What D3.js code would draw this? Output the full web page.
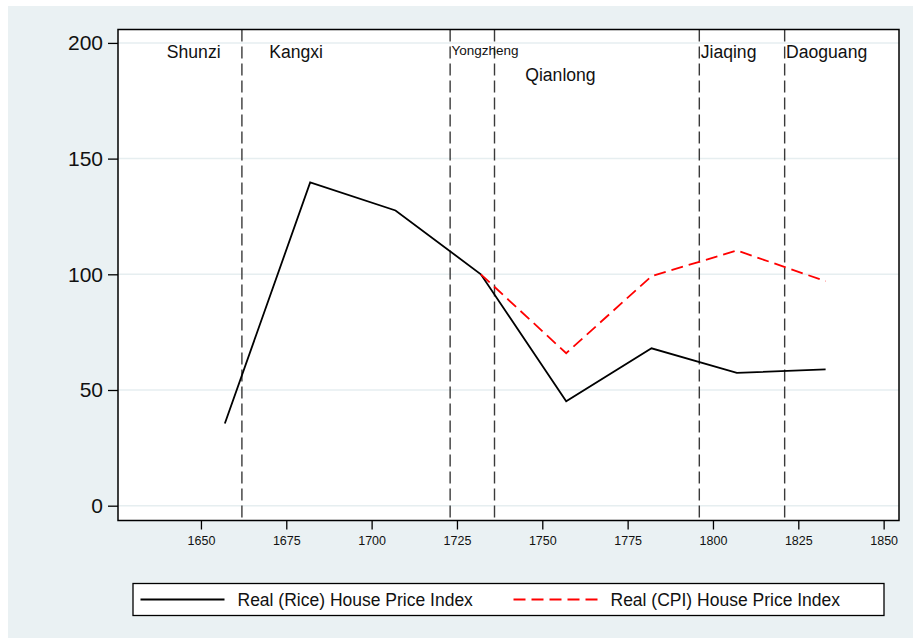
<!DOCTYPE html>
<html>
<head>
<meta charset="utf-8">
<script src="https://cdn.jsdelivr.net/npm/d3@7"></script>
<style>
  html, body { margin: 0; padding: 0; background: #fff; }
  svg { display: block; font-family: "Liberation Sans", Arial, sans-serif; }
</style>
</head>
<body>
<div id="vis-display"></div>
<script>
// Real house price indices by Qing reign period, with reign boundaries as dashed verticals.

const YEARS      = [1657, 1682, 1707, 1732, 1757, 1782, 1807, 1833];
const RICE_INDEX = [35.5, 139.7, 127.6, 100, 45.1, 68, 57.4, 58.9];
const CPI_INDEX  = [null, null, null, 100, 65.9, 99.2, 110.3, 97.0];

const REIGN_STARTS = [1662, 1723, 1736, 1796, 1821];
const REIGN_NAMES  = ["Shunzi", "Kangxi", "Yongzheng", "Qianlong", "Jiaqing", "Daoguang"];
const REIGN_LABEL_X = [1640, 1670, 1723.4, 1745, 1796.4, 1821.4];
const REIGN_LABEL_Y = [196, 196, 197, 186, 196, 196];

const X_TICKS = [1650, 1675, 1700, 1725, 1750, 1775, 1800, 1825, 1850];
const Y_TICKS = [0, 50, 100, 150, 200];

const SERIES = [
  { label: "Real (Rice) House Price Index", values: RICE_INDEX, color: "#000",    dash: null },
  { label: "Real (CPI) House Price Index",  values: CPI_INDEX,  color: "#ff0000", dash: "12,6" },
];

const W = 913, H = 642;
const plot = { left: 118, right: 899, top: 29.5, bottom: 520.5 };

const svg = d3.select("#vis-display").append("svg")
  .attr("width", W)
  .attr("height", H);

// ── Background ──────────────────────────────────────────────────────────────

svg.append("rect")
  .attr("x", 8).attr("y", 6)
  .attr("width", W - 8).attr("height", 632)
  .attr("fill", "#eaf1f3");

svg.append("rect")
  .attr("x", plot.left).attr("y", plot.top)
  .attr("width", plot.right - plot.left).attr("height", plot.bottom - plot.top)
  .attr("fill", "#fff");

// ── Scales ──────────────────────────────────────────────────────────────────

const x = d3.scaleLinear().domain([1625.7, 1854.5]).range([plot.left, plot.right]);
const y = d3.scaleLinear().domain([-6.4, 205.8]).range([plot.bottom, plot.top]);

// ── Grid ────────────────────────────────────────────────────────────────────

svg.append("g")
  .selectAll("line")
  .data(Y_TICKS)
  .join("line")
    .attr("x1", plot.left).attr("x2", plot.right)
    .attr("y1", d => y(d)).attr("y2", d => y(d))
    .attr("stroke", "#e6eef0")
    .attr("stroke-width", 1.5);

// ── Reign boundaries ────────────────────────────────────────────────────────

svg.append("g")
  .selectAll("line")
  .data(REIGN_STARTS)
  .join("line")
    .attr("x1", d => x(d)).attr("x2", d => x(d))
    .attr("y1", plot.top).attr("y2", plot.bottom)
    .attr("stroke", "#3a3a3a")
    .attr("stroke-width", 1.4)
    .attr("stroke-dasharray", "12,5");

svg.append("g")
  .selectAll("text")
  .data(REIGN_NAMES)
  .join("text")
    .attr("x", (d, i) => x(REIGN_LABEL_X[i]))
    .attr("y", (d, i) => y(REIGN_LABEL_Y[i]))
    .attr("dy", "0.35em")
    .style("font-size", d => d === "Yongzheng" ? "13.5px" : "17.6px")
    .style("fill", "#111")
    .text(d => d);

// ── Axes ────────────────────────────────────────────────────────────────────

svg.append("g")
  .attr("transform", `translate(${plot.left},0)`)
  .call(d3.axisLeft(y).tickValues(Y_TICKS).tickSize(10).tickPadding(5))
  .call(ax => ax.select(".domain").remove())
  .call(ax => ax.selectAll(".tick line").attr("stroke", "#000").attr("stroke-width", 1.3))
  .selectAll("text")
    .style("font-size", "21px")
    .style("font-family", "Liberation Sans, Arial, sans-serif")
    .style("fill", "#111");

svg.append("g")
  .attr("transform", `translate(0,${plot.bottom})`)
  .call(d3.axisBottom(x).tickValues(X_TICKS).tickSize(9).tickPadding(7).tickFormat(d3.format("d")))
  .call(ax => ax.select(".domain").remove())
  .call(ax => ax.selectAll(".tick line").attr("stroke", "#000").attr("stroke-width", 1.3))
  .selectAll("text")
    .style("font-size", "12.5px")
    .style("font-family", "Liberation Sans, Arial, sans-serif")
    .style("fill", "#111");

// ── Lines ───────────────────────────────────────────────────────────────────

const line = d3.line()
  .defined(d => d.v != null)
  .x(d => x(d.year))
  .y(d => y(d.v));

SERIES.forEach(s => {
  svg.append("path")
    .datum(YEARS.map((year, i) => ({ year, v: s.values[i] })))
    .attr("fill", "none")
    .attr("stroke", s.color)
    .attr("stroke-width", 1.8)
    .attr("stroke-dasharray", s.dash)
    .attr("d", line);
});

// ── Plot frame ──────────────────────────────────────────────────────────────

svg.append("rect")
  .attr("x", plot.left).attr("y", plot.top)
  .attr("width", plot.right - plot.left).attr("height", plot.bottom - plot.top)
  .attr("fill", "none")
  .attr("stroke", "#000")
  .attr("stroke-width", 1.5);

// ── Legend ──────────────────────────────────────────────────────────────────

const legend = svg.append("g");

legend.append("rect")
  .attr("x", 133).attr("y", 583.5)
  .attr("width", 751).attr("height", 32)
  .attr("fill", "#fff")
  .attr("stroke", "#000")
  .attr("stroke-width", 1.3);

const legendX = [140.5, 513.5];

SERIES.forEach((s, i) => {
  legend.append("line")
    .attr("x1", legendX[i]).attr("x2", legendX[i] + 84)
    .attr("y1", 599.5).attr("y2", 599.5)
    .attr("stroke", s.color)
    .attr("stroke-width", 1.8)
    .attr("stroke-dasharray", s.dash);

  legend.append("text")
    .attr("x", legendX[i] + 97)
    .attr("y", 599.5)
    .attr("dy", "0.35em")
    .style("font-size", "17.5px")
    .style("fill", "#111")
    .text(s.label);
});
</script>
</body>
</html>
